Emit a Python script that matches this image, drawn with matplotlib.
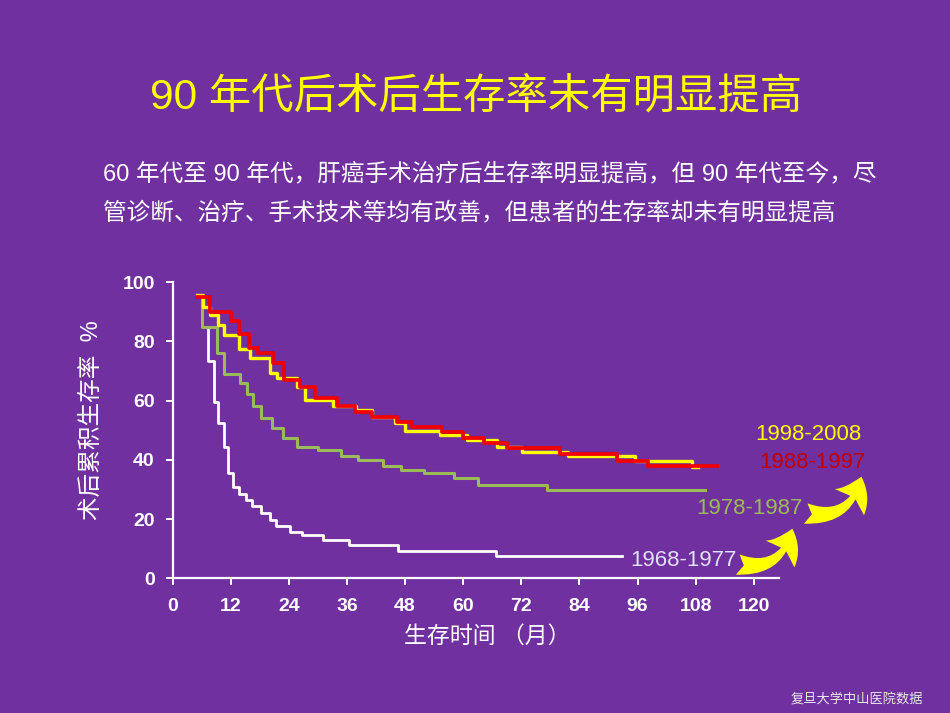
import matplotlib
matplotlib.use("Agg")
import matplotlib.pyplot as plt
from matplotlib.patches import FancyArrowPatch

plt.rcParams['font.family'] = ['Liberation Sans', 'Noto Sans CJK SC', 'DejaVu Sans']

BG = '#7030A0'

# survival curves (months, %)
months_9808 = [5.0, 6.3, 7.7, 9.4, 10.6, 13.6, 15.9, 20.1, 21.5, 25.6, 27.3, 33.2, 37.9,
               41.1, 45.9, 48.0, 55.2, 60.7, 66.9, 72.1, 81.7, 95.5, 107.2, 108.5]
surv_9808 = [95.7, 91.8, 89.0, 85.6, 82.2, 77.4, 74.3, 69.5, 67.6, 64.7, 60.2, 58.2, 56.7,
             54.5, 52.5, 49.9, 48.3, 46.7, 44.5, 42.8, 41.3, 39.6, 37.5, 37.5]

months_8897 = [5.0, 7.7, 12.0, 13.6, 15.8, 17.7, 20.8, 23.0, 26.3, 29.4, 33.9, 37.6, 41.1,
               46.3, 49.4, 55.6, 60.0, 64.2, 69.0, 80.0, 91.7, 98.2, 112.4]
surv_8897 = [95.2, 90.0, 87.0, 82.4, 77.7, 76.2, 72.6, 67.0, 64.5, 61.0, 58.2, 56.3, 54.6,
             52.9, 51.0, 49.3, 47.5, 45.6, 44.1, 42.0, 39.6, 38.0, 38.0]

months_7887 = [6.1, 6.1, 9.2, 10.5, 14.0, 15.3, 16.5, 18.2, 20.6, 22.8, 25.6, 30.1, 34.7,
               38.3, 43.4, 47.1, 51.9, 58.0, 63.1, 77.2, 109.9]
surv_7887 = [94.8, 84.8, 76.0, 68.9, 66.1, 62.2, 58.2, 54.0, 50.7, 47.3, 44.5, 43.3, 41.3,
             40.0, 37.9, 36.6, 35.5, 33.8, 31.5, 29.8, 29.8]

months_6877 = [7.2, 7.2, 8.5, 9.4, 10.5, 11.5, 12.5, 13.7, 15.1, 16.4, 18.2, 20.1, 21.3,
               24.2, 26.8, 31.1, 36.5, 46.6, 66.8, 92.7]
surv_6877 = [84.7, 73.5, 59.7, 52.4, 44.5, 35.5, 31.0, 28.5, 26.5, 24.4, 22.2, 19.7, 17.7,
             15.7, 14.6, 12.9, 11.3, 9.2, 7.5, 7.5]

x_ticks = [0, 12, 24, 36, 48, 60, 72, 84, 96, 108, 120]
y_ticks = [0, 20, 40, 60, 80, 100]

fig = plt.figure(figsize=(9.5, 7.13), dpi=100)
fig.patch.set_facecolor(BG)

W, H = 950.0, 713.0


def fx(px):
    return px / W


def fy(py):
    return 1 - py / H


ax = fig.add_axes([fx(172.7), fy(578.3), fx(779) - fx(172.7), fy(282.3) - fy(578.3)])
ax.set_facecolor(BG)

ax.step(months_6877, surv_6877, where='post', color='white', lw=2.0)
ax.step(months_7887, surv_7887, where='post', color='#9BBB59', lw=2.2)
ax.step(months_9808, surv_9808, where='post', color='#FFFF00', lw=2.4)
ax.step(months_8897, surv_8897, where='post', color='#F00000', lw=2.7)

ax.set_xlim(0, (779 - 172.7) / 4.842)
ax.set_ylim(0, 100)
ax.set_xticks(x_ticks)
ax.set_yticks(y_ticks)
for s in ['top', 'right']:
    ax.spines[s].set_visible(False)
for s in ['left', 'bottom']:
    ax.spines[s].set_color('white')
    ax.spines[s].set_linewidth(1.6)
ax.tick_params(colors='white', width=1.4, length=5, labelsize=14)
ax.tick_params(axis='x', pad=9)
ax.tick_params(axis='y', pad=8)
for lab in ax.get_xticklabels() + ax.get_yticklabels():
    lab.set_fontweight('bold')
    lab.set_color('white')

# axis titles placed like on the slide
fig.text(fx(487), fy(636), '生存时间 （月）', color='white', fontsize=16.5,
         ha='center', va='center')
fig.text(fx(92), fy(420), '术后累积生存率  %', color='white', fontsize=17,
         rotation=90, ha='center', va='center')

# slide texts
fig.text(fx(476), fy(98), '90 年代后术后生存率未有明显提高', color='#FFFF00',
         fontsize=30.5, ha='center', va='center')
fig.text(fx(103), fy(174), '60 年代至 90 年代，肝癌手术治疗后生存率明显提高，但 90 年代至今，尽',
         color='white', fontsize=17, ha='left', va='center')
fig.text(fx(103), fy(214), '管诊断、治疗、手术技术等均有改善，但患者的生存率却未有明显提高',
         color='white', fontsize=17, ha='left', va='center')
fig.text(fx(857), fy(700), '复旦大学中山医院数据', color='#E8E8E8', fontsize=9.5,
         ha='center', va='center')

# period labels
fig.text(fx(808), fy(435), '1998-2008', color='#FFFF00', fontsize=16, ha='center', va='center')
fig.text(fx(812), fy(463), '1988-1997', color='#C00000', fontsize=16, ha='center', va='center')
fig.text(fx(749), fy(508), '1978-1987', color='#9BBB59', fontsize=16, ha='center', va='center')
fig.text(fx(683), fy(561), '1968-1977', color='#E0E0F8', fontsize=16, ha='center', va='center')

# yellow curved arrows
for tail, tip in [((735, 564), (793, 526)), ((803, 513), (862, 474))]:
    arr = FancyArrowPatch((fx(tail[0]), fy(tail[1])), (fx(tip[0]), fy(tip[1])),
                          transform=fig.transFigure, connectionstyle='arc3,rad=0.5',
                          arrowstyle='fancy,head_length=0.75,head_width=1.05,tail_width=0.55',
                          mutation_scale=27, color='#FFFF00', lw=0)
    fig.add_artist(arr)

fig.savefig('out.png', dpi=100, facecolor=BG)
